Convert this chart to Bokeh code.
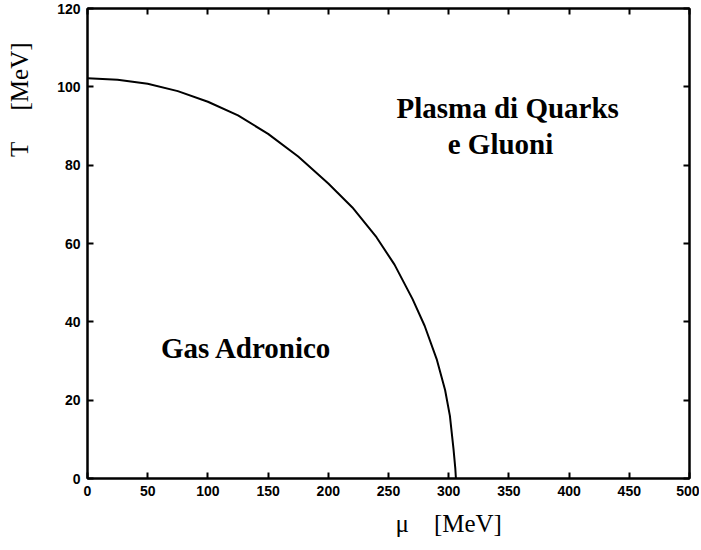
from bokeh.plotting import figure
from bokeh.models import LinearAxis, Label, Range1d, FixedTicker, Title
from bokeh.embed import file_html
from bokeh.resources import INLINE

# data
mu = [0, 25, 50, 75, 100, 125, 150, 175, 200, 220, 240, 255, 270, 280, 290, 297, 301, 304, 305.5, 306]
T = [102.2, 101.8, 100.8, 98.9, 96.2, 92.7, 88.0, 82.2, 75.3, 69.2, 61.6, 54.6, 45.8, 39.0, 30.5, 22.6, 16.0, 7.5, 2.5, 0.0]

x_ticks = [0, 50, 100, 150, 200, 250, 300, 350, 400, 450, 500]
y_ticks = [0, 20, 40, 60, 80, 100, 120]

region_labels = ["Plasma di Quarks", "e Gluoni", "Gas Adronico"]
region_mu = [349, 343, 132]
region_T = [94.7, 85.5, 33.4]

NB = "\u00a0"
x_title = "\u03bc" + NB * 4 + "[MeV]"
# leading no-break spaces push the centred y title up towards the top, as in the reference
y_title = NB * 46 + "T" + NB * 5 + "[MeV]"

p = figure(frame_width=602, frame_height=470, output_backend="svg", toolbar_location=None,
           x_range=Range1d(0, 500), y_range=Range1d(0, 120),
           min_border_left=87, min_border_top=8, min_border_right=10, min_border_bottom=0)
p.background_fill_color = "white"
p.border_fill_color = "white"
p.grid.visible = False
p.outline_line_color = "black"
p.outline_line_width = 2

def style_axis(ax, labels=True):
    ax.major_tick_in = 6
    ax.major_tick_out = 0
    ax.minor_tick_line_color = None
    ax.axis_line_width = 2
    ax.axis_line_color = "black"
    ax.major_tick_line_width = 2
    ax.major_tick_line_color = "black"
    if labels:
        ax.major_label_text_font = "Liberation Sans"
        ax.major_label_text_font_style = "bold"
        ax.major_label_text_font_size = "14px"
        ax.major_label_text_color = "black"
        ax.major_label_standoff = 7
    else:
        ax.major_label_text_font_size = "0px"
        ax.major_label_standoff = 0

p.xaxis.ticker = FixedTicker(ticks=x_ticks)
p.yaxis.ticker = FixedTicker(ticks=y_ticks)
style_axis(p.xaxis[0])
style_axis(p.yaxis[0])

yax = p.yaxis[0]
yax.axis_label = y_title
yax.axis_label_standoff = 21
yax.axis_label_text_font = "Liberation Serif"
yax.axis_label_text_font_style = "normal"
yax.axis_label_text_font_size = "25px"
yax.axis_label_text_color = "black"

top = LinearAxis(ticker=FixedTicker(ticks=x_ticks))
style_axis(top, labels=False)
p.add_layout(top, "above")
right = LinearAxis(ticker=FixedTicker(ticks=y_ticks))
style_axis(right, labels=False)
p.add_layout(right, "right")

p.line(mu, T, line_color="black", line_width=2)

for txt, xm, yt in zip(region_labels, region_mu, region_T):
    p.add_layout(Label(x=xm, y=yt, text=txt, text_align="center", text_baseline="alphabetic",
                       text_font="Liberation Serif", text_font_style="bold",
                       text_font_size="29px", text_color="black"))

xt = Title(text=x_title, align="left", offset=308, standoff=18,
           text_font="Liberation Serif", text_font_style="normal",
           text_font_size="25px", text_color="black")
p.add_layout(xt, "below")

open("out.html", "w").write(file_html(p, INLINE))
